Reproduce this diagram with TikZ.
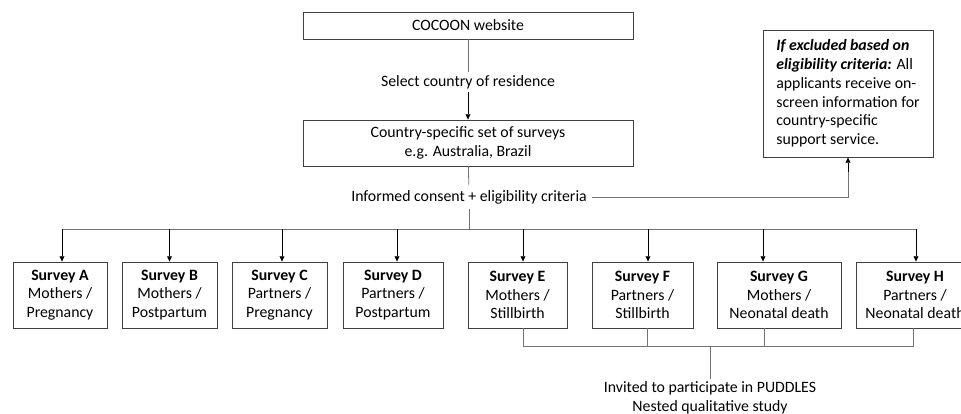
\documentclass[tikz,border=0pt]{standalone}
\usepackage{fontspec}
\setmainfont{Carlito}
\usetikzlibrary{arrows.meta,positioning,calc}

\begin{document}
\begin{tikzpicture}[
		x=0.75pt, y=-0.75pt,
		font=\fontsize{11.85pt}{14.1pt}\selectfont,
		box/.style={draw=black!75, line width=0.6pt, align=center, inner sep=2pt},
		survey/.style={box, minimum height=49.5pt},
		plain/.style={align=center, inner sep=2pt},
		line/.style={draw=black!55, line width=0.6pt},
		arr/.style={draw=black, line width=0.6pt, -{Triangle[length=4pt,width=3.6pt]}}
	]

	\clip (0,0) rectangle (961,414);

	% top part
	\node[box, minimum width=247.5pt, minimum height=20.25pt] (web) at (468,25.5) {COCOON website};
	\node[plain] (sel) at (468,82) {Select country of residence};
	\node[box, minimum width=247.5pt, minimum height=34.5pt] (set) at (468,143) {Country-specific set of surveys\\e.g. Australia, Brazil};
	\node[plain, inner sep=4pt] (cons) at (469,197) {Informed consent + eligibility criteria};
	\node[box, minimum width=127.5pt, minimum height=95.25pt, align=left, inner sep=6pt] (excl) at (848,93.5)
		{\textbf{\textit{If excluded based on}}\\\textbf{\textit{eligibility criteria:}} All\\applicants receive on-\\screen information for\\country-specific\\support service.};

	\draw[line] (web) -- (sel);
	\draw[arr] (sel) -- (set);
	\draw[line] (set) -- (cons);
	\draw[line] (cons.east) -| ($(excl.south)+(0,15)$);
	\draw[arr] ($(excl.south)+(0,15)$) -- (excl.south);

	% surveys
	\node[survey, minimum width=70.5pt] (sA) at (60,295) {\textbf{Survey A}\\Mothers /\\Pregnancy};
	\node[survey, minimum width=71.25pt] (sB) at (169.5,295) {\textbf{Survey B}\\Mothers /\\Postpartum};
	\node[survey, minimum width=71.25pt] (sC) at (279.5,295) {\textbf{Survey C}\\Partners /\\Pregnancy};
	\node[survey, minimum width=75pt] (sD) at (393,295) {\textbf{Survey D}\\Partners /\\Postpartum};
	\node[survey, minimum width=74.25pt] (sE) at (517.5,295) {\textbf{Survey E}\\Mothers /\\Stillbirth};
	\node[survey, minimum width=75.75pt] (sF) at (642.5,295) {\textbf{Survey F}\\Partners /\\Stillbirth};
	\node[survey, minimum width=93pt] (sG) at (779,295) {\textbf{Survey G}\\Mothers /\\Neonatal death};
	\node[survey, minimum width=88.5pt] (sH) at (915,295) {\textbf{Survey H}\\Partners /\\Neonatal death};

	\coordinate (bus) at (469,229);
	\foreach \s/\dx in {A/2,B/0,C/2.5,D/4,E/5.5,F/5.5,G/-16,H/1}
		\path ($(s\s.north)+(\dx,0)$) coordinate (t\s);
	\draw[line] (cons.south) -- (bus);
	\draw[line] (bus -| tA) -- (bus -| tH);
	\foreach \s in {A,B,C,D,E,F,G,H}
		\draw[arr] (bus -| t\s) -- (t\s);

	% nested study
	\node[plain] (pud) at (710,398) {Invited to participate in PUDDLES\\Nested qualitative study};
	\coordinate (merge) at (710,346);
	\foreach \s/\dx in {E/5.5,F/4.5,G/-15,H/-2}
		\path ($(s\s.south)+(\dx,0)$) coordinate (b\s);
	\draw[line] (bE) |- (merge -| bH) -- (bH);
	\draw[line] (bF) -- (merge -| bF);
	\draw[line] (bG) -- (merge -| bG);
	\draw[line] (merge) -- (pud);

\end{tikzpicture}
\end{document}
